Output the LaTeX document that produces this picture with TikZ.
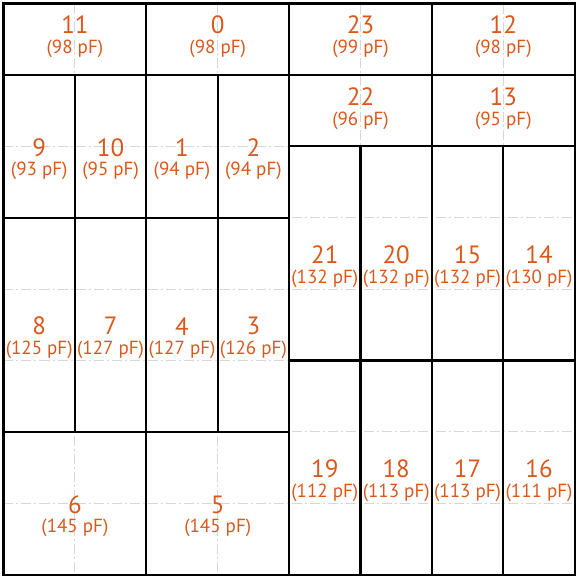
\documentclass[tikz,border=0pt]{standalone}
\usepackage{fontspec}
\setmainfont{PT Sans}
\usepackage{xcolor}
\definecolor{padorange}{RGB}{217, 88, 28}
\definecolor{gridgray}{RGB}{215, 215, 215}
\usepackage{tikz}
\usetikzlibrary{positioning}

\begin{document}
\begin{tikzpicture}[x=71.4pt, y=-71.4pt,
        guide/.style={draw=gridgray, line width=0.9pt, dash pattern=on 10pt off 3pt on 2pt off 3pt},
        pad/.style={draw=black, line width=2.2pt},
        padnum/.style={text=padorange, inner sep=0pt, font=\fontsize{25}{28}\selectfont},
        padcap/.style={text=padorange, inner sep=0pt, font=\fontsize{19}{22}\selectfont}]
        \useasboundingbox (-0.049,-0.049) rectangle (8.018,8.004);

        % Hilfsraster
        \foreach \k in {1,...,7} {
            \draw [guide] (\k,0) -- (\k,8);
            \draw [guide] (0,\k) -- (8,\k);
        }

        % Flache Felder (obere Reihen)
        \foreach \n/\xa/\ya/\xb/\yb/\c in {11/0/0/2/1/98, 0/2/0/4/1/98, 23/4/0/6/1/99, 12/6/0/8/1/98,
                22/4/1/6/2/96, 13/6/1/8/2/95} {
            \draw [pad] (\xa,\ya) rectangle (\xb,\yb);
            \node [padnum] (n\n) at ({(\xa+\xb)/2},{(\ya+\yb)/2-0.2}) {\n};
            \node [padcap] (c\n) at ({(\xa+\xb)/2},{(\ya+\yb)/2+0.14}) {(\c~pF)};
        }

        % Hohe Felder
        \foreach \n/\xa/\ya/\xb/\yb/\c in {9/0/1/1/3/93, 10/1/1/2/3/95, 1/2/1/3/3/94, 2/3/1/4/3/94,
                8/0/3/1/6/125, 7/1/3/2/6/127, 4/2/3/3/6/127, 3/3/3/4/6/126,
                6/0/6/2/8/145, 5/2/6/4/8/145,
                21/4/2/5/5/132, 20/5/2/6/5/132, 15/6/2/7/5/132, 14/7/2/8/5/130,
                19/4/5/5/8/112, 18/5/5/6/8/113, 17/6/5/7/8/113, 16/7/5/8/8/111} {
            \draw [pad] (\xa,\ya) rectangle (\xb,\yb);
            \node [padnum] (n\n) at ({(\xa+\xb)/2},{(\ya+\yb)/2+0.02}) {\n};
            \node [padcap] (c\n) at ({(\xa+\xb)/2},{(\ya+\yb)/2+0.35}) {(\c~pF)};
        }
    \end{tikzpicture}
\end{document}
